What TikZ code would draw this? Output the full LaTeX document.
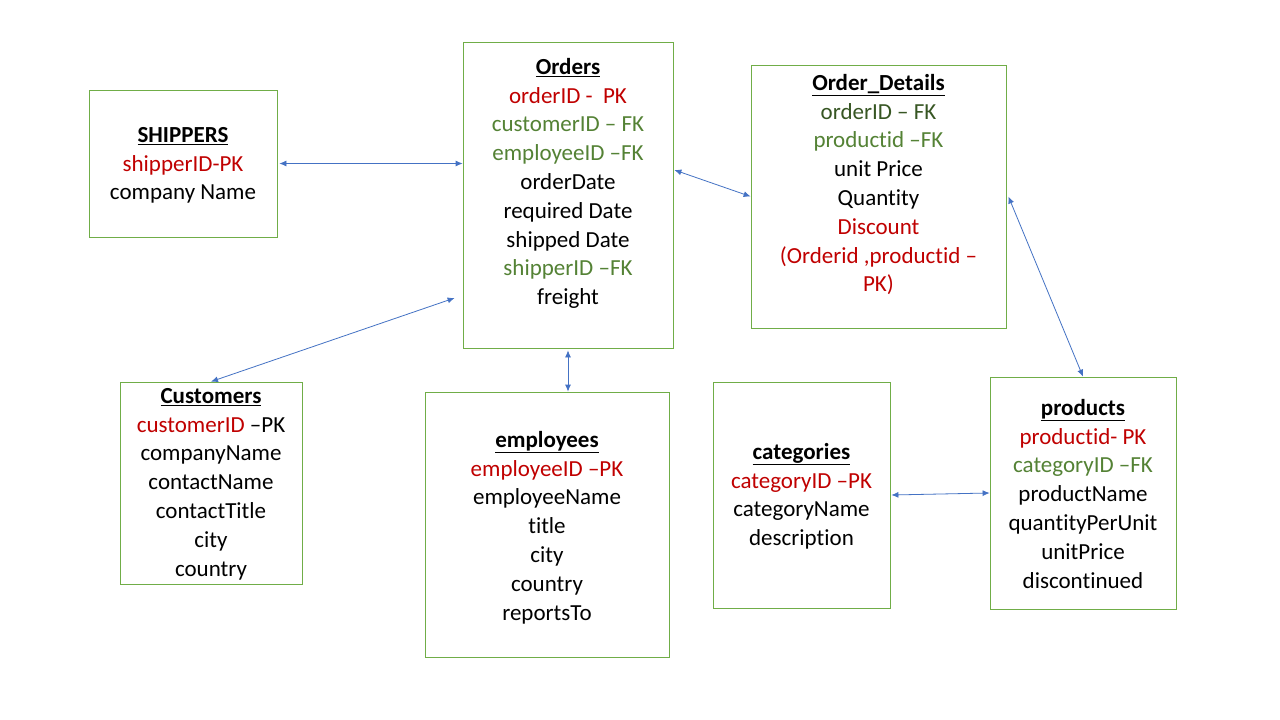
\documentclass[tikz,border=0pt]{standalone}
\usepackage{fontspec}
\setmainfont{Carlito}[Ligatures=NoCommon]
\usetikzlibrary{arrows.meta,calc}
\definecolor{pkred}{HTML}{C00000}
\definecolor{fkgreen}{HTML}{548235}
\definecolor{fkdark}{HTML}{375623}
\definecolor{boxgreen}{HTML}{70AD47}
\definecolor{linkblue}{HTML}{4472C4}
\newcommand{\ttl}[1]{\underline{\textbf{#1}}}
\begin{document}
\begin{tikzpicture}[x=1pt,y=-1pt,
  tbl/.style={draw=boxgreen, line width=0.8pt, rectangle, inner sep=0pt},
  txt/.style={anchor=north, align=center, inner sep=0pt, font=\fontsize{23}{28.8}\selectfont},
  link/.style={draw=linkblue, line width=0.8pt, {Latex[length=7pt,width=6pt]}-{Latex[length=7pt,width=6pt]}}]
\fill[white] (0,0) rectangle (1280,720);
\useasboundingbox (0,0) rectangle (1280,720);

% boxes
\node[tbl, minimum width=188pt, minimum height=147pt] (ship) at (183,163.5) {};
\node[tbl, minimum width=210pt, minimum height=306pt] (orders) at (568,195) {};
\node[tbl, minimum width=255pt, minimum height=263pt] (od) at (878.5,196.5) {};
\node[tbl, minimum width=182pt, minimum height=202pt] (cust) at (211,483) {};
\node[tbl, minimum width=244pt, minimum height=265pt] (emp) at (547,524.5) {};
\node[tbl, minimum width=177pt, minimum height=226pt] (cat) at (801.5,495) {};
\node[tbl, minimum width=186pt, minimum height=232pt] (prod) at (1083,493) {};

% texts
\node[txt] (shiptxt) at (183,127) {\ttl{SHIPPERS}\\
  \textcolor{pkred}{shipperID-PK}\\
  company Name};
\node[txt] (orderstxt) at (568,58) {\ttl{Orders}\\
  \textcolor{pkred}{orderID -\ \ PK}\\
  \textcolor{fkgreen}{customerID – FK}\\
  \textcolor{fkgreen}{employeeID –FK}\\
  orderDate\\
  required Date\\
  shipped Date\\
  \textcolor{fkgreen}{shipperID –FK}\\
  freight};
\node[txt] (odtxt) at (878.5,74) {\ttl{Order\_Details}\\
  \textcolor{fkdark}{orderID – FK}\\
  \textcolor{fkgreen}{productid –FK}\\
  unit Price\\
  Quantity\\
  \textcolor{pkred}{Discount}\\
  \textcolor{pkred}{(Orderid ,productid –}\\
  \textcolor{pkred}{PK)}};
\node[txt] (custtxt) at (211,388) {\ttl{Customers}\\
  \textcolor{pkred}{customerID} –PK\\
  companyName\\
  contactName\\
  contactTitle\\
  city\\
  country};
\node[txt] (emptxt) at (547,431) {\ttl{employees}\\
  \textcolor{pkred}{employeeID –PK}\\
  employeeName\\
  title\\
  city\\
  country\\
  reportsTo};
\node[txt] (cattxt) at (801.5,443) {\ttl{categories}\\
  \textcolor{pkred}{categoryID –PK}\\
  categoryName\\
  description};
\node[txt] (prodtxt) at (1083,399) {\ttl{products}\\
  \textcolor{pkred}{productid- PK}\\
  \textcolor{fkgreen}{categoryID –FK}\\
  productName\\
  quantityPerUnit\\
  unitPrice\\
  discontinued};

% connectors
\coordinate (ordcust) at ([xshift=-8pt,yshift=-103pt]orders.west);
\draw[link] ([xshift=2pt]ship.east) -- (ship.east -| orders.west);
\draw[link] ([xshift=1pt,yshift=25pt]orders.east) -- (od.west);
\draw[link] (cust.north) -- (ordcust);
\draw[link] ([yshift=-2pt]orders.south) -- (orders.south |- emp.north);
\draw[link] ([xshift=2pt]od.east) -- (prod.north);
\draw[link] ([xshift=1pt]cat.east) -- (prod.west);
\end{tikzpicture}
\end{document}
